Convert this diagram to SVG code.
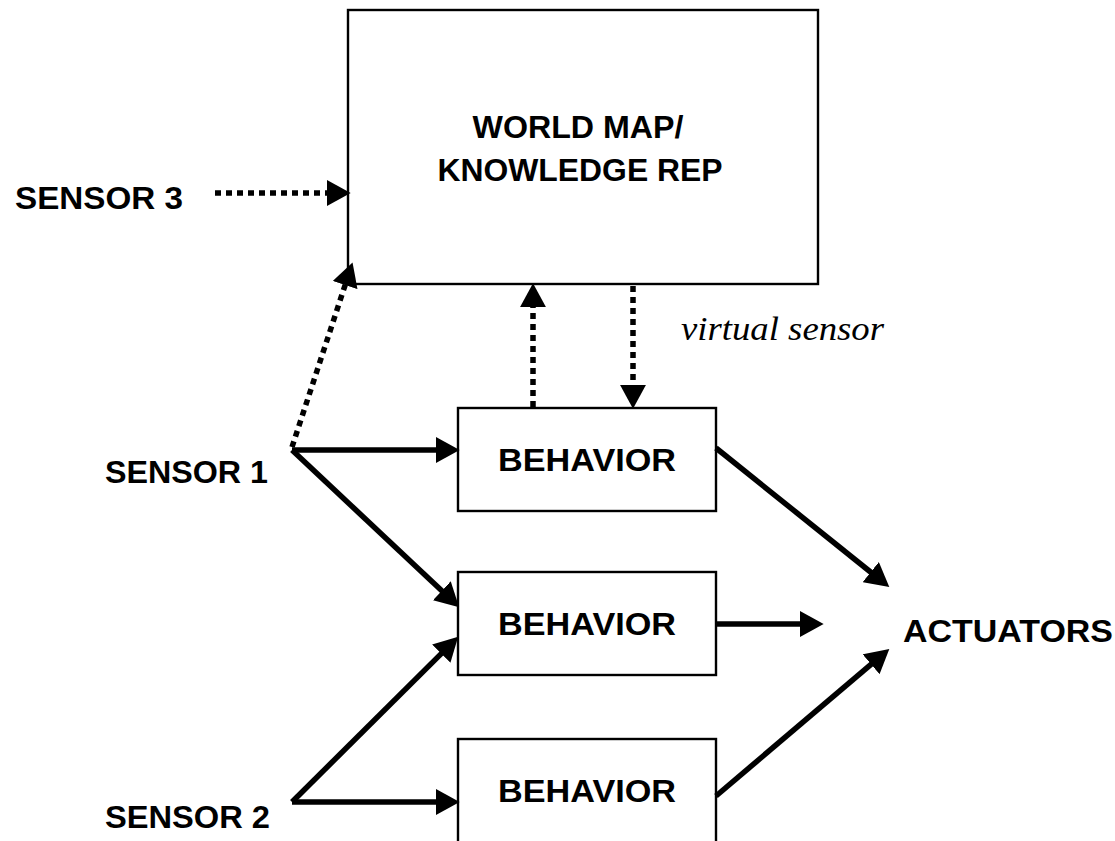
<svg xmlns="http://www.w3.org/2000/svg" width="1115" height="841" viewBox="0 0 1115 841">
<defs>
<style>
.box{fill:#fff;stroke:#000;stroke-width:2.4}
.lbl{font-family:"Liberation Sans",Arial,sans-serif;font-weight:bold;font-size:31px;fill:#000}
.solid{stroke:#000;stroke-width:5.5;fill:none;marker-end:url(#ah)}
.dot{stroke:#000;stroke-width:5.5;fill:none;stroke-dasharray:6 5;marker-end:url(#ah)}
.it{font-family:"Liberation Serif","Times New Roman",serif;font-style:italic;font-size:33px;fill:#000}
</style>
<marker id="ah" markerUnits="userSpaceOnUse" markerWidth="24" markerHeight="26" refX="2" refY="12" orient="auto" viewBox="0 0 22 24">
<path d="M0,0 L22,12 L0,24 z" fill="#000"/>
</marker>
</defs>
<rect width="1115" height="841" fill="#fff"/>
<g id="worldmap">
<rect class="box" x="348" y="10" width="470" height="274"/>
<text class="lbl" x="578" y="138" text-anchor="middle" textLength="211" lengthAdjust="spacingAndGlyphs">WORLD MAP/</text>
<text class="lbl" x="580" y="181" text-anchor="middle" textLength="285" lengthAdjust="spacingAndGlyphs">KNOWLEDGE REP</text>
</g>
<g id="behavior1">
<rect class="box" x="458" y="408" width="258" height="103"/>
<text class="lbl" x="587" y="471" text-anchor="middle" textLength="178" lengthAdjust="spacingAndGlyphs">BEHAVIOR</text>
</g>
<g id="behavior2">
<rect class="box" x="458" y="572" width="258" height="103"/>
<text class="lbl" x="587" y="635" text-anchor="middle" textLength="178" lengthAdjust="spacingAndGlyphs">BEHAVIOR</text>
</g>
<g id="behavior3">
<rect class="box" x="458" y="739" width="258" height="120"/>
<text class="lbl" x="587" y="802" text-anchor="middle" textLength="178" lengthAdjust="spacingAndGlyphs">BEHAVIOR</text>
</g>
<g id="sensor3"><text class="lbl" x="15" y="209" textLength="168" lengthAdjust="spacingAndGlyphs">SENSOR 3</text></g>
<g id="sensor1"><text class="lbl" x="105" y="483" textLength="163" lengthAdjust="spacingAndGlyphs">SENSOR 1</text></g>
<g id="sensor2"><text class="lbl" x="105" y="828" textLength="165" lengthAdjust="spacingAndGlyphs">SENSOR 2</text></g>
<g id="actuators"><text class="lbl" x="903" y="642" textLength="210" lengthAdjust="spacingAndGlyphs">ACTUATORS</text></g>
<g id="connectors">
<line class="solid" x1="292" y1="450" x2="438" y2="450"/>
<line class="solid" x1="292" y1="450" x2="443.4" y2="592.3"/>
<line class="solid" x1="292" y1="802" x2="438" y2="802"/>
<line class="solid" x1="292" y1="802" x2="442.8" y2="652.1"/>
<line class="solid" x1="716" y1="448" x2="872.4" y2="573.5"/>
<line class="solid" x1="716" y1="624" x2="802" y2="624"/>
<line class="solid" x1="716" y1="796" x2="872.8" y2="662.9"/>
<line class="dot" x1="215" y1="193" x2="329" y2="193"/>
<line class="dot" x1="292" y1="447" x2="345.8" y2="283"/>
<line class="dot" x1="533" y1="407" x2="533" y2="305"/>
<line class="dot" x1="633" y1="286" x2="633" y2="387"/>
<text class="it" x="681" y="340" textLength="203" lengthAdjust="spacingAndGlyphs">virtual sensor</text>
</g>
</svg>
